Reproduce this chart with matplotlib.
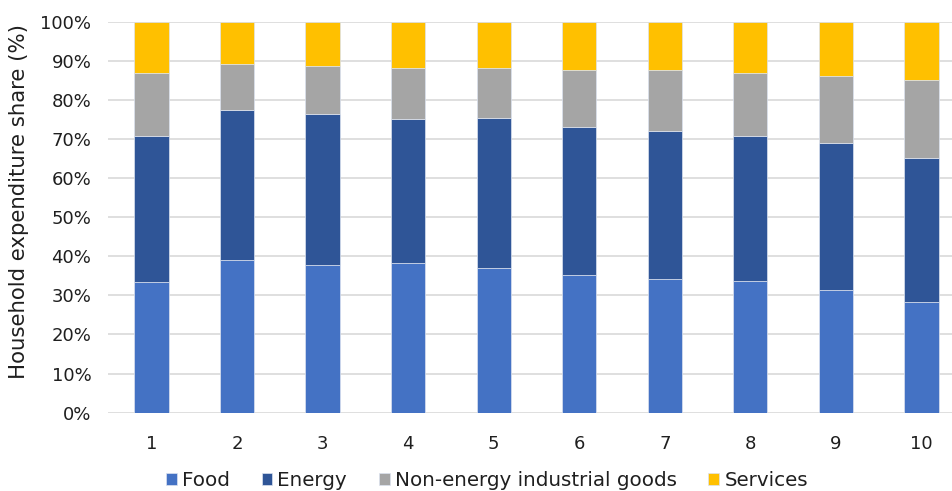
import numpy as np
import matplotlib
matplotlib.use("Agg")
from matplotlib import pyplot as plt

# deciles and stacked shares (%)
deciles = ["1", "2", "3", "4", "5", "6", "7", "8", "9", "10"]
food = [33.4, 39.0, 37.7, 38.4, 36.9, 35.2, 34.2, 33.6, 31.3, 28.2]
energy = [37.4, 38.3, 38.7, 36.8, 38.5, 37.9, 37.9, 37.2, 37.7, 37.0]
goods = [16.1, 12.0, 12.2, 13.0, 12.8, 14.5, 15.6, 16.2, 17.2, 19.8]
services = [13.1, 10.7, 11.4, 11.8, 11.8, 12.4, 12.3, 13.0, 13.8, 15.0]

series = [("Food", food, "#4472C4"),
          ("Energy", energy, "#2F5597"),
          ("Non-energy industrial goods", goods, "#A5A5A5"),
          ("Services", services, "#FFC000")]

plt.rcParams['font.family'] = ['DejaVu Sans']
txt = "#1f1f1f"

fig = plt.figure(figsize=(9.53, 4.91), dpi=100)
ax = fig.add_axes([0.1133, 0.1595, 0.8867, 0.7963])

x = np.arange(1, len(deciles) + 1)
bottom = np.zeros(len(deciles))
for name, vals, color in series:
    vals = np.array(vals)
    ax.bar(x, vals, 0.4, bottom=bottom, color=color, label=name,
           edgecolor="#dce3f0", linewidth=0.5, zorder=3)
    bottom += vals

ax.set_ylim(0, 100)
ax.set_xlim(0.492, 10.368)
ax.set_yticks(np.arange(0, 101, 10))
ax.set_yticklabels([f"{v}%" for v in range(0, 101, 10)])
ax.set_xticks(x)
ax.set_xticklabels(deciles)
ax.grid(axis="y", color="#d9d9d9", linewidth=1.2, zorder=0)
for s in ax.spines.values():
    s.set_visible(False)
ax.tick_params(axis="both", length=0, labelsize=13, colors=txt)
ax.tick_params(axis="x", pad=16)
ax.tick_params(axis="y", pad=12)
ax.set_ylabel("Household expenditure share (%)", fontsize=15.3, color=txt)
ax.yaxis.set_label_coords(-0.094, 0.54)

fig.legend(loc="center", bbox_to_anchor=(0.511, 0.022), ncol=4, frameon=False,
           fontsize=14.3, handlelength=0.55, handleheight=0.55, handletextpad=0.25,
           columnspacing=1.6, labelcolor=txt)

fig.savefig("out.png", dpi=100)
